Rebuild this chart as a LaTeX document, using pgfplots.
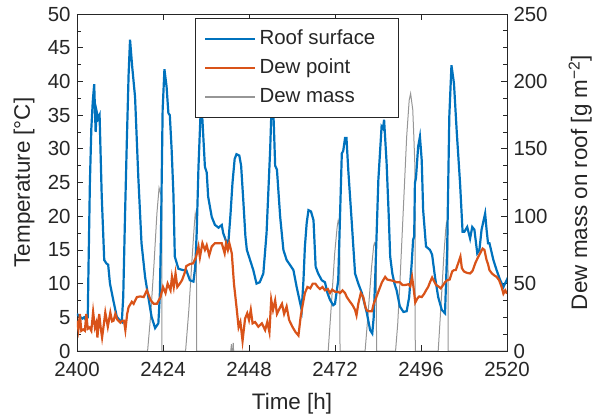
\documentclass[border=0pt]{standalone}
\usepackage{fontspec}
\setmainfont{Liberation Sans}
\usepackage{pgfplots}
\pgfplotsset{compat=1.18}
\definecolor{mblue}{RGB}{0,114,189}
\definecolor{morange}{RGB}{217,83,25}
\definecolor{mgrey}{RGB}{150,150,150}
\definecolor{axgrey}{RGB}{38,38,38}
\pgfplotsset{
  common/.style={
    scale only axis, width=430bp, height=337bp,
    at={(0,0)}, anchor=south west,
    xmin=2400, xmax=2520,
    /pgf/number format/assume math mode=true,
    /pgf/number format/1000 sep={},
    tick label style={font=\fontsize{20.5}{24}\selectfont, text=axgrey},
    label style={font=\fontsize{22.5}{26}\selectfont, text=axgrey},
    axis line style={axgrey, line width=0.8bp, -},
    major tick length=6bp, minor tick length=4bp,
    every tick/.style={axgrey, line width=0.7bp},
    tick align=inside,
    clip=true,
  }
}
\begin{document}
\begin{tikzpicture}
% right axis: dew mass
\begin{axis}[common,
  axis x line=none,
  axis y line*=right,
  ymin=0, ymax=250,
  ytick={0,50,...,250},
  minor y tick num=3,
  yticklabel style={xshift=3bp},
  ylabel={Dew mass on roof [g m\textsuperscript{−2}]},
  ylabel style={at={(axis description cs:1.170,0.5)}, anchor=center, rotate=0},
]
\addplot[mgrey, line width=1bp] table {
2400 0
2419.7 0
2420.6 28
2421.5 65
2422.3 102
2422.9 121
2423.3 117
2423.65 115
2423.7 0
2430.3 0
2431.2 30
2432.1 68
2432.7 92
2433.0 102
2433.3 98
2433.4 0
2442.9 0
2443.1 5
2443.2 0
2443.5 0
2443.6 6
2443.7 0
2470.1 0
2471.0 35
2471.9 72
2472.6 92
2472.9 97
2473.3 93
2473.4 0
2480.4 0
2481.3 30
2482.2 62
2482.8 78
2483.0 80
2483.5 76
2483.6 0
2488.9 0
2489.5 20
2490.1 50
2491.1 107
2492.0 159
2492.7 186
2493.1 191
2493.7 179
2494.0 159
2494.3 137
2494.4 0
2500.8 0
2501.6 35
2502.4 72
2502.9 90
2503.1 95
2503.5 90
2503.6 0
2520 0
};
\end{axis}
% left axis: temperatures
\begin{axis}[common,
  ymin=0, ymax=50,
  ytick={0,5,...,50},
  minor y tick num=1,
  ytick pos=left,
  xtick={2400,2424,...,2520},
  minor x tick num=3,
  xtick pos=both,
  yticklabel style={xshift=-3bp},
  xticklabel style={yshift=-8bp},
  xlabel={Time [h]},
  ylabel={Temperature [°C]},
  xlabel style={at={(axis description cs:0.5,-0.157)}, anchor=center},
  ylabel style={at={(axis description cs:-0.123,0.5)}, anchor=center},
  legend cell align=left,
  legend style={at={(axis description cs:0.2744,0.988)}, anchor=north west,
    font=\fontsize{20.5}{24}\selectfont, text=axgrey,
    draw=axgrey, line width=0.8bp, fill=white,
    inner xsep=9bp, inner ysep=8bp, row sep=4bp,
    nodes={inner sep=3bp, text height=15bp, text depth=4bp}},
  legend image code/.code={\path (0bp,0bp) -- (50bp,0bp);\draw[#1] (4bp,0bp) -- (46bp,0bp);},
]
\addplot[mblue, line width=2.2bp] table {
2400 5.5
2400.5 5.2
2401 5.0
2401.5 4.8
2402 5.0
2402.5 4.6
2403 5.0
2403.2 12
2403.6 25
2404 33
2404.4 37
2404.8 39.6
2405.2 32.5
2405.5 35.5
2405.9 34.5
2406.3 35
2406.9 23
2407.6 13.5
2408.2 13
2408.7 12.8
2409.2 10
2410.1 7.6
2411.1 5.1
2412.0 4.5
2412.5 4.3
2412.9 8
2413.4 20
2413.9 31
2414.4 41
2414.8 46.2
2415.4 42.2
2416.2 37.7
2417.1 25.9
2418.0 16
2419.0 11
2419.9 8
2420.8 5.1
2421.8 3.4
2422.7 4.1
2423.1 8
2423.4 16
2423.9 35.8
2424.4 41.8
2425.0 39.2
2425.5 35.3
2425.9 35
2426.4 30
2426.9 23.4
2427.3 14
2428.3 12.2
2429.6 12
2430.5 12
2431.5 10.5
2432.5 10.3
2433.0 12.5
2433.4 17.5
2433.9 27.3
2434.5 35.5
2435.0 34.3
2435.7 27.3
2436.2 26.5
2436.6 22.9
2437.6 19.9
2438.5 18.7
2439.5 18.3
2440.4 18.7
2440.8 17.5
2441.8 16
2442.3 16.5
2442.8 20
2443.4 25
2444.0 28.5
2444.5 29.2
2445.3 29
2445.8 27.5
2446.4 22.4
2447.0 17
2447.4 15
2448.3 13.5
2449.2 12
2450.1 10
2451.0 10.2
2452.0 11.5
2452.9 17.5
2453.9 29.8
2454.4 38
2454.9 34
2455.3 27.5
2455.8 26.9
2456.7 19.9
2457.6 15
2458.5 13.5
2459.4 12.8
2460.4 12
2461.3 9.5
2462.2 7.3
2462.7 6.1
2463.2 10.5
2463.6 15.5
2464.1 19
2464.6 20.9
2465.3 20.7
2466.0 19.4
2466.6 12.5
2467.3 11.5
2468.3 10.5
2469.2 10.2
2469.9 8.6
2470.6 7.6
2471.5 6.8
2472.0 7
2472.9 10.5
2473.4 20
2473.9 29.3
2474.3 29.7
2474.8 31.6
2475.2 31.6
2475.7 26.9
2476.7 18.9
2477.6 11.5
2478.5 10
2479.5 8.6
2480.9 5.6
2481.8 3.1
2482.4 2.6
2482.8 5
2483.2 10.5
2484.1 25.4
2485.0 33.3
2485.4 33
2485.7 34.3
2486.4 27.9
2487.0 20
2487.4 14
2488.0 11.5
2488.6 10
2489.2 9
2490.1 6.6
2491.1 5.8
2492.0 5.9
2492.7 8
2493.4 13
2493.8 16.5
2494.1 17
2494.3 24.9
2494.6 25.7
2495.2 30.3
2495.7 31.8
2496.2 28.3
2496.6 20.9
2497.4 15.5
2498.5 15
2499.1 14.3
2499.9 11
2500.8 8
2501.8 6.1
2502.7 5.6
2503.3 15
2503.9 34.8
2504.5 42.4
2505.2 39.7
2506.0 32.3
2506.9 24.9
2507.6 17.7
2508.1 17.7
2508.9 18.4
2509.7 16.7
2510.3 18.4
2510.9 18
2511.7 14.5
2512.3 15
2512.9 18
2513.9 20.4
2514.3 18
2514.7 16
2515.1 16
2516.2 13.5
2517.1 12
2518.1 10.5
2519.0 9.5
2519.9 10.5
2520 10.2
};
\addlegendentry{Roof surface\rule{11bp}{0bp}}
\addplot[morange, line width=2.2bp] table {
2400 4.5
2400.4 3.2
2400.8 5.5
2401.2 3
2401.7 3.2
2402.2 3
2402.6 5.5
2403 3.3
2403.5 3.5
2404 3
2404.5 5.8
2405 3.5
2405.4 4.2
2405.7 2
2406.2 5.5
2406.6 3.5
2407 2
2407.5 4
2407.9 5.7
2408.6 3.6
2409.3 5.7
2409.8 4.4
2410.2 4.5
2410.7 5.5
2411.2 4.7
2412.1 4.2
2412.6 4.5
2413.1 4.5
2413.5 3.1
2414 5.5
2414.4 6.5
2415.3 7.3
2415.8 7
2416.7 8
2417.7 8.1
2418.6 8
2419.5 9
2420.5 7.6
2421.4 7
2422.3 7
2423.3 8
2424 9.5
2424.7 8.6
2425.3 10
2426.1 9
2426.5 11
2427 9.5
2427.5 11.5
2428 9.5
2428.7 10
2429.3 10.5
2430 11.5
2430.5 12.6
2431.5 12.9
2432.4 13
2433.2 13.9
2433.9 15.5
2434.3 13.9
2435 16
2435.7 15
2436.2 15.7
2436.9 14.2
2437.6 15.5
2438.5 16
2439.5 16
2440.4 16
2441.2 14.5
2441.6 16
2442.1 15
2442.5 16
2443.2 14.5
2443.8 10
2444.5 6.6
2445.1 3.5
2445.6 4.3
2446.2 1.5
2446.9 4.8
2447.5 5.6
2448.0 4.6
2448.5 6.1
2449.0 4.1
2449.7 4.3
2450.6 3.6
2451.6 4.1
2452.5 3.1
2453.1 4.3
2453.7 2.8
2454.2 7.6
2454.7 6.1
2455.3 7.5
2455.8 5.5
2456.7 6.5
2457.2 7
2457.8 5.5
2458.5 6.6
2459.2 4.6
2460.1 3.6
2461.0 2.8
2461.8 2.3
2462.4 5
2462.9 6.6
2463.6 8.6
2464.3 9.5
2465.1 9.3
2465.8 10
2466.5 10
2467.2 9.5
2467.8 9.2
2468.5 9.5
2469.2 9
2470 9.2
2470.6 8.6
2471.2 9.1
2472 8.8
2472.8 8.8
2473.4 8.6
2474.1 9
2474.8 8.6
2475.3 8
2476.2 7.3
2476.9 6.8
2477.6 6.1
2478 5.3
2478.5 7
2479.2 8.6
2479.9 8
2480.5 6.5
2480.9 6
2481.5 5.9
2482.3 5.9
2482.8 7
2483.4 7.8
2484.1 8.8
2485.1 10.2
2486 11
2486.6 10.6
2487.4 10.5
2488.3 10.4
2489.2 10.2
2490.1 10.2
2490.8 9.8
2491.6 9.8
2492.5 9.9
2493.0 9.6
2493.5 11
2493.9 9.5
2494.4 7.2
2495.0 7.8
2495.5 8.1
2496.2 8
2496.9 8.5
2497.4 9
2498.0 9.5
2498.5 10.2
2499.1 10.9
2499.6 10.4
2500.2 9.8
2500.8 9.6
2501.5 9.3
2502.2 9.8
2502.7 10.2
2503.3 10.5
2504 10.6
2504.7 11.8
2505.2 12
2505.7 12
2506.3 12.9
2507.0 14
2507.4 12.3
2508 11.8
2508.8 11.6
2509.7 11.5
2510.4 11.9
2511.2 13.1
2512.0 14
2512.6 14.6
2513.2 15.2
2513.7 15
2514.3 13.5
2514.7 12.9
2515.1 12
2515.8 11.5
2516.5 11.2
2517.1 11
2517.8 10.5
2518.5 9.5
2519.0 8.5
2519.5 9
2520 8.5
};
\addlegendentry{Dew point}
\addlegendimage{mgrey, line width=1.2bp}
\addlegendentry{Dew mass}
\end{axis}
\pgfresetboundingbox
\useasboundingbox (-77bp,-68bp) rectangle (521bp,351bp);
\end{tikzpicture}
\end{document}
